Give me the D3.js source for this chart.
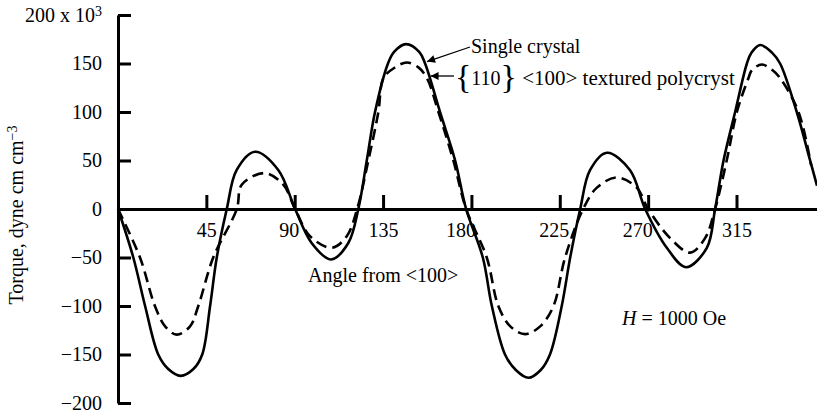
<!DOCTYPE html>
<html>
<head>
<meta charset="utf-8">
<script src="https://cdn.jsdelivr.net/npm/d3@7/dist/d3.min.js"></script>
<style>
  html, body { margin: 0; padding: 0; background: #fff; }
  svg { display: block; font-family: "Liberation Serif", "DejaVu Serif", serif; }
</style>
</head>
<body>
<svg id="chart" width="817" height="413"></svg>
<script>
// ---- Data ----
const xTicks = [45, 90, 135, 180, 225, 270, 315];
const yTicks = [-200, -150, -100, -50, 0, 50, 100, 150, 200];

const singleAngle = [0, 7.8, 13.8, 20.5, 25.6, 31.9, 38.4, 42.9, 46.9, 50.3, 55.4, 60.4, 69.8, 81.7, 90.2, 98.6, 108.5, 117.3, 122.4, 126.7, 130.9, 137.5, 140.6, 146.7, 153.4, 156.4, 164, 171.7, 177.3, 185.8, 190.4, 197.1, 202.6, 209, 215.3, 220, 226, 230.3, 235.4, 240.4, 249, 260.8, 268.5, 279.5, 289.3, 299.9, 304.1, 308.4, 314.3, 320.3, 322.6, 327, 333.2, 337.2, 345.7, 352.5, 356];
const singleTorque = [0, -50, -100, -150, -165, -172, -165, -150, -100, -50, 0, 40, 59, 40, 0, -35, -52, -35, 0, 50, 100, 150, 162, 170, 162, 150, 100, 50, 0, -50, -100, -150, -166, -174, -166, -150, -100, -50, 0, 40, 58, 40, 0, -40, -60, -40, 0, 50, 100, 150, 161, 169, 161, 150, 100, 50, 24];

const polyAngle = [0, 11.2, 18.8, 24, 29.9, 36.7, 40.9, 48.5, 60.5, 63, 74.9, 84.2, 90.2, 97.8, 108.9, 116.5, 121.8, 127.5, 132.6, 135.2, 141.1, 147.1, 153, 157.3, 163.2, 170.8, 177.3, 187.8, 193.7, 199.8, 207.3, 215, 221.8, 227.7, 236.9, 243.9, 254, 264.2, 270, 281.2, 291.4, 299, 304.1, 310, 315.2, 321.1, 322.8, 327.9, 333.4, 337.2, 346.6, 353];
const polyTorque = [0, -50, -100, -121, -129.5, -121, -100, -50, 0, 25, 37, 25, 0, -28, -40, -28, 0, 50, 100, 135, 146, 151, 146, 135, 100, 50, 0, -50, -100, -121, -129, -121, -100, -50, 0, 22, 32.5, 22, 0, -30, -45, -30, 0, 50, 100, 135, 143, 149, 143, 135, 100, 45];

const single = singleAngle.map((a, i) => ({a, t: singleTorque[i]}));
const poly = polyAngle.map((a, i) => ({a, t: polyTorque[i]}));

// ---- Layout ----
const svg = d3.select("#chart");
const x = d3.scaleLinear().domain([0, 356]).range([118, 817]);
const y = d3.scaleLinear().domain([-200, 200]).range([403, 15]);
const FS = 20;

const fmt = v => (v < 0 ? "\u2212" + Math.abs(v) : String(v));

// Y axis
const yAxis = svg.append("g")
  .attr("transform", `translate(${x(0)},0)`)
  .call(d3.axisLeft(y).tickValues(yTicks).tickSizeInner(-13).tickSizeOuter(0).tickPadding(16)
    .tickFormat(v => v === 200 ? "200 x 10" : fmt(v)));
yAxis.select(".domain").attr("stroke", "#000").attr("stroke-width", 3);
yAxis.selectAll(".tick line").attr("stroke", "#000").attr("stroke-width", 3);
yAxis.selectAll(".tick text").attr("font-size", FS).attr("fill", "#000")
  .attr("font-family", "Liberation Serif");
yAxis.selectAll(".tick").filter(d => d === 200).select("text")
  .append("tspan").attr("dy", "-0.45em").attr("font-size", 14).text("3");

// X axis at zero
const xAxis = svg.append("g")
  .attr("transform", `translate(0,${y(0)})`)
  .call(d3.axisBottom(x).tickValues(xTicks).tickSizeInner(-14).tickSizeOuter(0).tickPadding(14)
    .tickFormat(d3.format("d")));
xAxis.select(".domain").attr("stroke", "#000").attr("stroke-width", 3);
xAxis.selectAll(".tick line").attr("stroke", "#000").attr("stroke-width", 3);
xAxis.selectAll(".tick text").attr("font-size", FS).attr("fill", "#000")
  .attr("font-family", "Liberation Serif");
xAxis.selectAll(".tick").filter(d => d === 180 || d === 270).select("text")
  .attr("text-anchor", "end").attr("dx", "0.2em");
xAxis.selectAll(".tick").filter(d => d === 90 || d === 225).select("text")
  .attr("dx", "-0.3em");

// Curves
const line = d3.line().x(d => x(d.a)).y(d => y(d.t)).curve(d3.curveCatmullRom.alpha(0.5));
svg.append("path").datum(single).attr("d", line)
  .attr("fill", "none").attr("stroke", "#000").attr("stroke-width", 2.6);
svg.append("path").datum(poly).attr("d", line)
  .attr("fill", "none").attr("stroke", "#000").attr("stroke-width", 2.6)
  .attr("stroke-dasharray", "11,6");

// Y label
svg.append("text")
  .attr("transform", "translate(23,215) rotate(-90)")
  .attr("text-anchor", "middle").attr("font-size", FS)
  .text("Torque, dyne cm cm")
  .append("tspan").attr("dy", "-0.45em").attr("font-size", 14).text("\u22123");

// Axis title
svg.append("text").attr("x", 308).attr("y", 282).attr("font-size", FS)
  .text("Angle from <100>");

// H label
const hl = svg.append("text").attr("x", 622).attr("y", 325).attr("font-size", FS);
hl.append("tspan").attr("font-style", "italic").text("H");
hl.append("tspan").text(" = 1000 Oe");

// Annotations with arrows
svg.append("defs").append("marker")
  .attr("id", "arrow").attr("viewBox", "0 0 10 10").attr("refX", 10).attr("refY", 5)
  .attr("markerWidth", 10).attr("markerHeight", 8).attr("markerUnits", "userSpaceOnUse")
  .attr("orient", "auto")
  .append("path").attr("d", "M0,0 L10,5 L0,10 Z").attr("fill", "#000");

svg.append("line").attr("x1", 470).attr("y1", 47).attr("x2", x(157.4)).attr("y2", y(152))
  .attr("stroke", "#000").attr("stroke-width", 1.3).attr("marker-end", "url(#arrow)");
svg.append("text").attr("x", 471).attr("y", 53).attr("font-size", FS).text("Single crystal");

svg.append("line").attr("x1", 454).attr("y1", 76).attr("x2", x(159.2)).attr("y2", 76)
  .attr("stroke", "#000").attr("stroke-width", 1.3).attr("marker-end", "url(#arrow)");
const pt = svg.append("text").attr("x", 455).attr("y", 85).attr("font-size", FS);
pt.append("tspan").attr("font-size", 34).attr("dy", "3").text("{");
pt.append("tspan").attr("dy", "-3").text("110");
pt.append("tspan").attr("font-size", 34).attr("dy", "3").text("}");
pt.append("tspan").attr("dy", "-3").attr("font-size", 21).text("  <100> textured polycryst");
</script>
</body>
</html>
